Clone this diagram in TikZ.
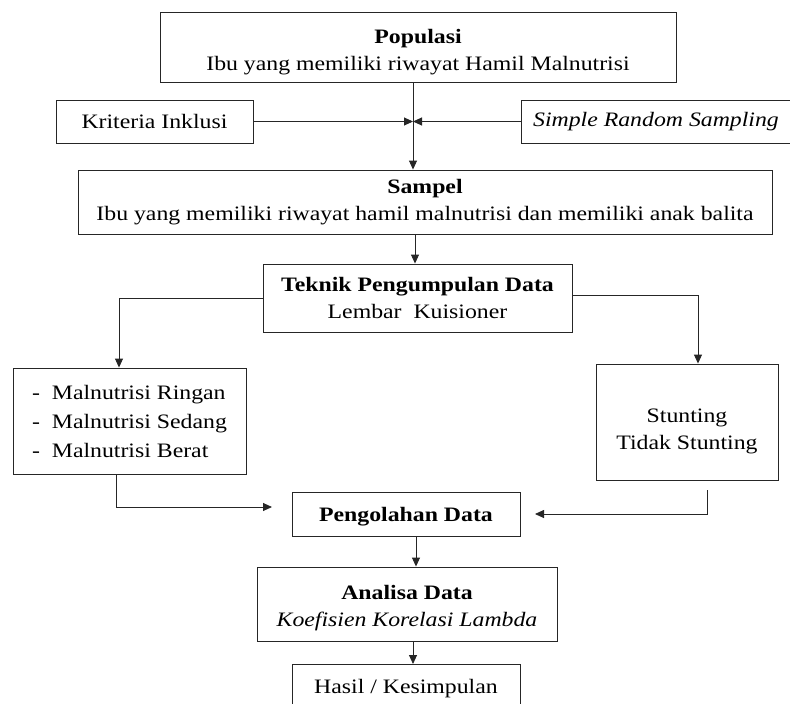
\documentclass[tikz,border=0pt]{standalone}
\usepackage{fontspec}
\setmainfont{Liberation Serif}[FakeStretch=1.16]
\usetikzlibrary{arrows.meta}
\newcommand\toppad[1]{\rule{0pt}{#1}}
\begin{document}
\begin{tikzpicture}[x=1pt,y=-1pt,
  box/.style={draw=black!85,line width=0.9pt,inner sep=0pt,align=center,font=\fontsize{20.5}{27}\selectfont},
  arr/.style={draw=black!85,line width=0.9pt,-{Triangle[length=9pt,width=8pt]}},
  ln/.style={draw=black!85,line width=0.9pt}]
\useasboundingbox (0,0) rectangle (790,704);
\node[box,minimum width=516pt,minimum height=70pt] (pop) at (418,47) {\toppad{24pt}\textbf{Populasi}\\Ibu yang memiliki riwayat Hamil Malnutrisi};
\node[box,minimum width=197pt,minimum height=43pt] (kri) at (154.5,121.5) {Kriteria Inklusi};
\node[box,minimum width=270pt,minimum height=43pt] (srs) at (656,121.5) {\textit{Simple Random Sampling}};
\node[box,minimum width=694pt,minimum height=64pt] (sam) at (425,202) {\textbf{Sampel}\\Ibu yang memiliki riwayat hamil malnutrisi dan memiliki anak balita};
\node[box,minimum width=309pt,minimum height=68pt] (tek) at (417.5,298) {\textbf{Teknik Pengumpulan Data}\\Lembar\ \ Kuisioner};
\node[box,minimum width=233pt,minimum height=106pt,align=left] (mal) at (129.5,421) {-\ \ Malnutrisi Ringan\\[2pt]-\ \ Malnutrisi Sedang\\[2pt]-\ \ Malnutrisi Berat};
\node[box,minimum width=182pt,minimum height=116pt] (stu) at (687,422) {\toppad{32pt}Stunting\\Tidak Stunting};
\node[box,minimum width=228pt,minimum height=44pt] (pen) at (406,514) {\toppad{20pt}\textbf{Pengolahan Data}};
\node[box,minimum width=300pt,minimum height=74pt] (ana) at (407,604) {\toppad{22pt}\textbf{Analisa Data}\\\textit{Koefisien Korelasi Lambda}};
\node[box,minimum width=228pt,minimum height=44pt,anchor=north] (has) at (406,664) {\toppad{18pt}Hasil / Kesimpulan};
\coordinate (j) at (413,121.5);
\coordinate (lc) at (119,298);
\coordinate (rc) at (698,295);
\coordinate (lb) at (116,507);
\coordinate (le) at (272,507);
\coordinate (rb) at (707,514);
\coordinate (re) at (535,514);
\draw[arr] (pop.south -| j) -- (sam.north -| j);
\draw[arr] (kri.east) -- (j);
\draw[arr] (srs.west) -- (j);
\draw[arr] (sam.south -| 415,0) -- (tek.north -| 415,0);
\draw[arr] (tek.west |- lc) -- (lc) -- (mal.north -| lc);
\draw[arr] (tek.east |- rc) -- (rc) -- (stu.north -| rc);
\draw[arr] (mal.south -| lb) -- (lb) -- (le);
\draw[arr] ([yshift=-10pt]stu.south -| rb) -- (rb) -- (re);
\draw[arr] (pen.south -| 416,0) -- (ana.north -| 416,0);
\draw[arr] (ana.south -| 413,0) -- (has.north -| 413,0);
\end{tikzpicture}
\end{document}
